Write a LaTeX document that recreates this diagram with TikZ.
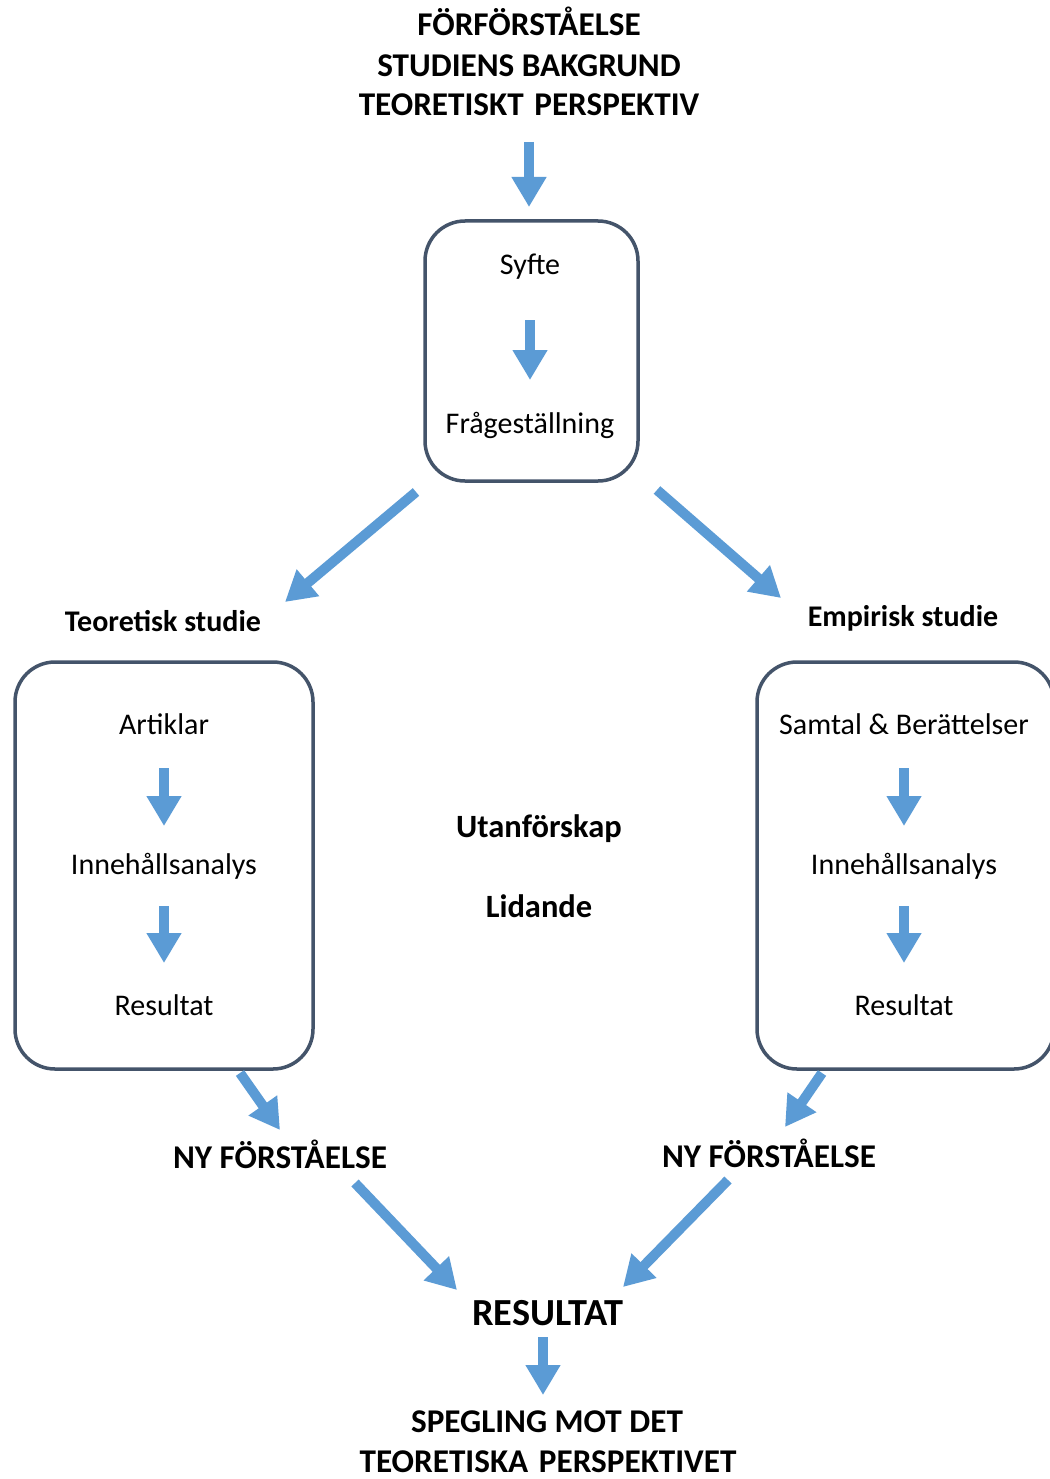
\documentclass[tikz,border=0pt]{standalone}
\usepackage{fontspec}
\setmainfont{Carlito}
\usetikzlibrary{arrows.meta}
\definecolor{arrblue}{RGB}{91,155,213}
\definecolor{boxc}{RGB}{68,84,106}
\begin{document}
\begin{tikzpicture}[x=1pt,y=-1pt,
  arr/.style={draw=arrblue, line width=10pt, -{Triangle[width=33pt,length=30pt]}},
  frame/.style={draw=boxc, line width=3.5pt, rounded corners=40pt},
  reg/.style={font=\fontsize{30}{34}\selectfont, inner sep=0pt, anchor=base},
  bld/.style={font=\fontsize{30}{34}\selectfont\bfseries, inner sep=0pt, anchor=base},
  mid/.style={font=\fontsize{32.5}{36}\selectfont\bfseries, inner sep=0pt, anchor=base},
  ttl/.style={font=\fontsize{33.2}{37}\selectfont\bfseries, inner sep=0pt, anchor=base},
  big/.style={font=\fontsize{38.3}{42}\selectfont\bfseries, inner sep=0pt, anchor=base}]
\useasboundingbox (0,0) rectangle (1049,1479);
\fill[white] (0,0) rectangle (1049,1479);
% title
\node[ttl] (t1) at (529,36) {FÖRFÖRSTÅELSE};
\node[ttl] (t2) at (529,77) {STUDIENS BAKGRUND};
\node[ttl] (t3) at (529,116) {TEORETISKT\hspace{0.32em}PERSPEKTIV};
% top box
\draw[frame] (425,221) rectangle (638,481);
\node[reg] (syfte) at (530,274) {Syfte};
\node[reg] (fraga) at (530,433) {Frågeställning};
% side labels
\node[bld] (teo) at (163,631) {Teoretisk studie};
\node[bld] (emp) at (903,626) {Empirisk studie};
% left box
\draw[frame] (15,662) rectangle (313,1069);
\node[reg] (art) at (164,734) {Artiklar};
\node[reg] (inL) at (164,874) {Innehållsanalys};
\node[reg] (resL) at (164,1015) {Resultat};
% right box
\draw[frame] (757,662) rectangle (1054,1069);
\node[reg] (sam) at (904,734) {Samtal \& Berättelser};
\node[reg] (inR) at (904,874) {Innehållsanalys};
\node[reg] (resR) at (904,1015) {Resultat};
% centre
\node[mid] (utan) at (539,837) {Utanförskap};
\node[mid] (lid) at (539,917) {Lidande};
% bottom
\node[ttl] (nyL) at (280,1168) {NY FÖRSTÅELSE};
\node[ttl] (nyR) at (769,1167) {NY FÖRSTÅELSE};
\node[big] (res) at (548,1325) {RESULTAT};
\node[ttl] (sp1) at (547,1432) {SPEGLING MOT DET};
\node[ttl] (sp2) at (548,1472) {TEORETISKA\hspace{0.32em}PERSPEKTIVET};
% arrow coordinates
\coordinate (a1s) at (529,142); \coordinate (a1e) at (529,207);
\coordinate (a2s) at (530,320); \coordinate (a2e) at (530,380);
\coordinate (a3s) at (416,492); \coordinate (a3e) at (285,602);
\coordinate (a4s) at (657,490); \coordinate (a4e) at (781,598);
\coordinate (a5s) at (164,768); \coordinate (a5e) at (164,826);
\coordinate (a6s) at (164,906); \coordinate (a6e) at (164,963);
\coordinate (a7s) at (904,768); \coordinate (a7e) at (904,826);
\coordinate (a8s) at (904,906); \coordinate (a8e) at (904,963);
\coordinate (a9s) at (240,1073); \coordinate (a9e) at (280,1130);
\coordinate (a10s) at (822,1073); \coordinate (a10e) at (785,1127);
\coordinate (a11s) at (355,1183); \coordinate (a11e) at (457,1290);
\coordinate (a12s) at (728,1180); \coordinate (a12e) at (623,1287);
\coordinate (a13s) at (543,1337); \coordinate (a13e) at (543,1395);
\foreach \i in {1,...,13} \draw[arr] (a\i s) -- (a\i e);
\end{tikzpicture}
\end{document}
